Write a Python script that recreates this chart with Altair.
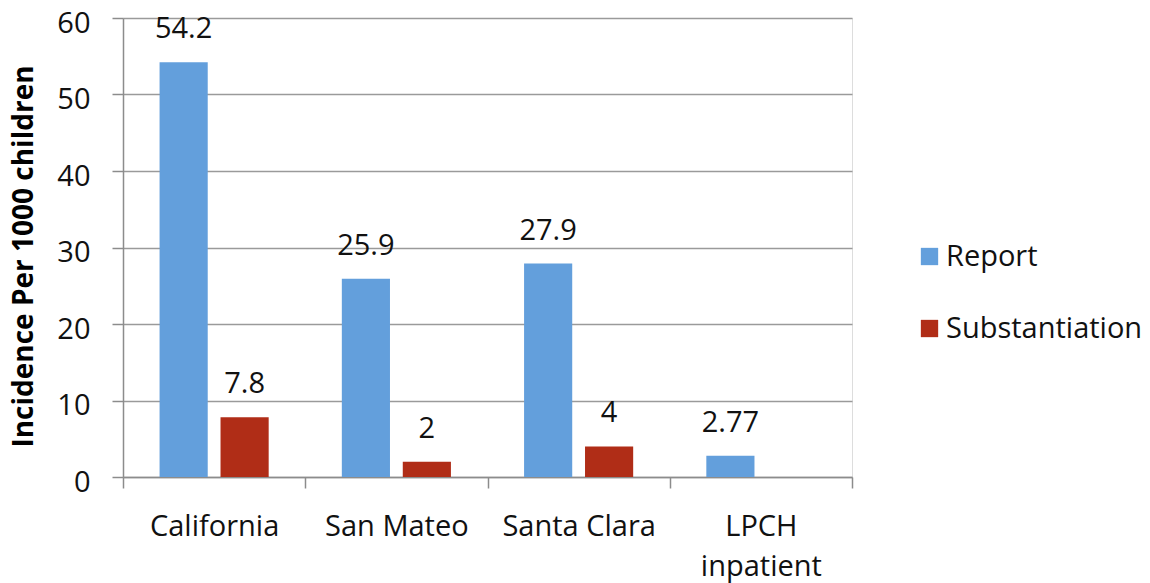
import altair as alt
import pandas as pd

# Incidence per 1000 children, by region and measure
categories = ["California", "San Mateo", "Santa Clara", "LPCH inpatient"]
report = [54.2, 25.9, 27.9, 2.77]
substantiation = [7.8, 2.0, 4.0, None]
labels_report = ["54.2", "25.9", "27.9", "2.77"]
labels_subst = ["7.8", "2", "4", None]

series = ["Report", "Substantiation"]
colors = ["#639fdc", "#b02d17"]

rows = []
for cat, r, s, lr, ls in zip(categories, report, substantiation, labels_report, labels_subst):
    rows.append({"region": cat, "measure": "Report", "value": r, "label": lr})
    if s is not None:
        rows.append({"region": cat, "measure": "Substantiation", "value": s, "label": ls})
df = pd.DataFrame(rows)

FONT = "Open Sans"
FS = 29

x_enc = alt.X(
    "region:N",
    sort=categories,
    scale=alt.Scale(paddingInner=0, paddingOuter=0),
    axis=alt.Axis(
        title=None,
        labelAngle=0,
        labelFontSize=FS,
        labelFont=FONT,
        labelColor="#111111",
        labelPadding=24,
        labelLineHeight=40,
        labelBaseline="top",
        labelLimit=0,
        labelExpr="datum.label == 'LPCH inpatient' ? ['LPCH', 'inpatient'] : datum.label",
        tickBand="extent",
        tickSize=11,
        tickColor="#8c8c8c",
        tickWidth=1.5,
        domainColor="#8c8c8c",
        domainWidth=1.5,
        grid=False,
    ),
)
xoff = alt.XOffset(
    "measure:N",
    scale=alt.Scale(domain=series, paddingInner=0.21, paddingOuter=0.6),
)

y_enc = alt.Y(
    "value:Q",
    scale=alt.Scale(domain=[0, 60], nice=False),
    axis=alt.Axis(
        title="Incidence Per 1000 children",
        titleFont=FONT,
        titleFontSize=28,
        titleFontWeight="bold",
        titleColor="#000000",
        titlePadding=18,
        titleY=238,
        values=[0, 10, 20, 30, 40, 50, 60],
        labelFontSize=FS,
        labelFont=FONT,
        labelColor="#111111",
        labelPadding=22,
        labelOffset=5,
        tickSize=11,
        tickColor="#8c8c8c",
        tickWidth=1.5,
        gridColor="#9a9a9a",
        gridWidth=1.5,
        domainColor="#8c8c8c",
        domainWidth=1.5,
    ),
)

bars = alt.Chart(df).mark_bar().encode(
    x=x_enc,
    xOffset=xoff,
    y=y_enc,
    color=alt.Color(
        "measure:N",
        scale=alt.Scale(domain=series, range=colors),
        legend=alt.Legend(
            title=None,
            orient="none",
            legendX=792,
            legendY=224,
            symbolType="square",
            symbolSize=300,
            symbolStrokeWidth=0,
            labelFont=FONT,
            labelFontSize=FS,
            labelColor="#111111",
            labelOffset=2,
            labelLimit=0,
            rowPadding=42,
        ),
    ),
)

text = alt.Chart(df).mark_text(
    baseline="middle", dy=-33, fontSize=FS, font=FONT, color="#111111"
).encode(
    x=alt.X("region:N", sort=categories),
    xOffset=alt.XOffset("measure:N", scale=alt.Scale(domain=series)),
    y="value:Q",
    text="label:N",
)

chart = (
    alt.layer(bars, text)
    .properties(
        width=729,
        height=459,
        autosize=alt.AutoSizeParams(type="none"),
        padding={"left": 123, "top": 18, "right": 298, "bottom": 106},
    )
    .configure_view(stroke=None)
    .configure(background="white")
)

chart.save("out.html", embed_options={"renderer": "svg", "actions": False})
